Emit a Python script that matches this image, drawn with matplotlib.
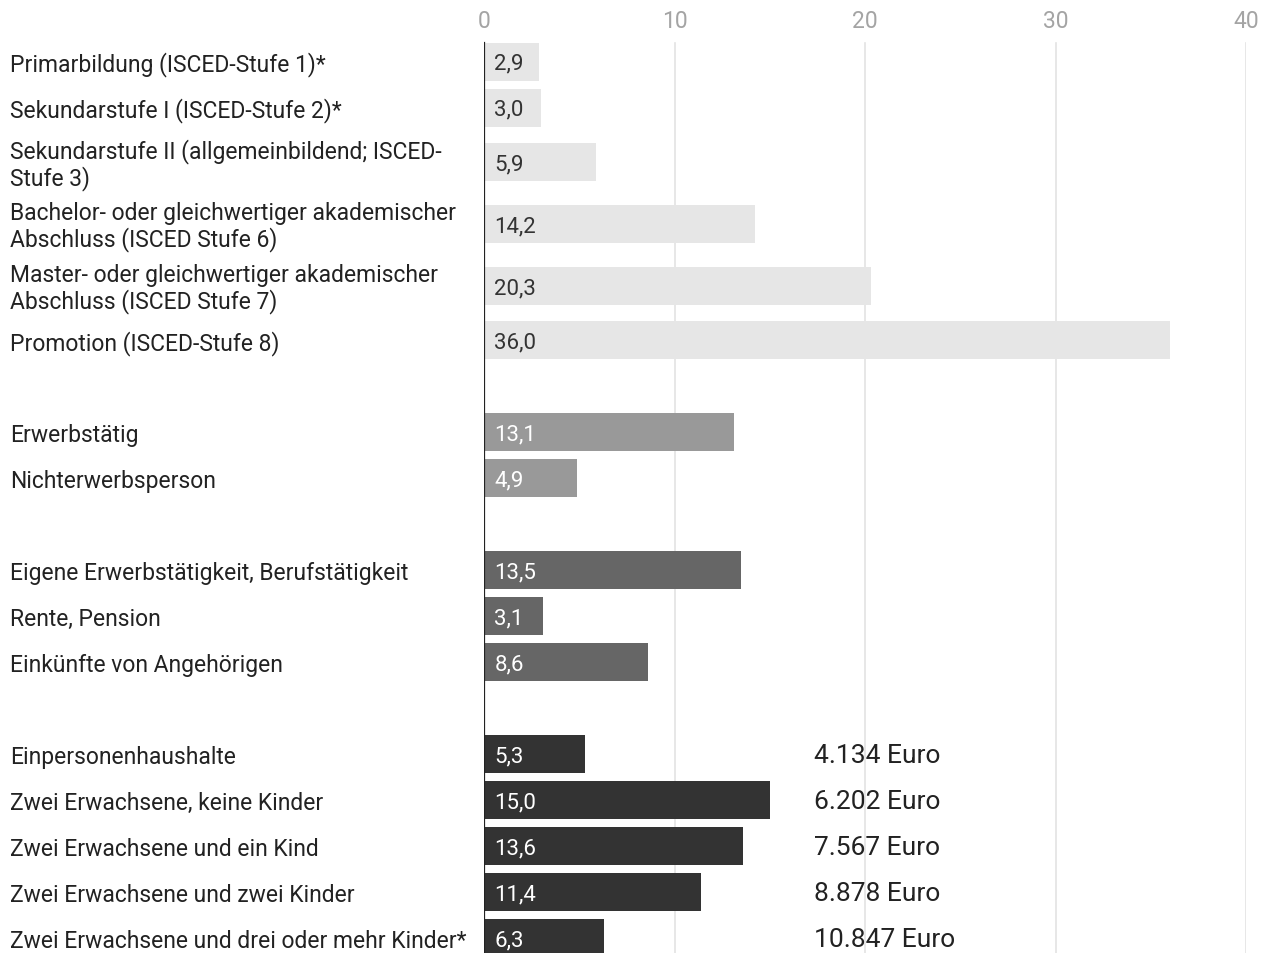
import numpy as np
import matplotlib
matplotlib.use("Agg")
import matplotlib.pyplot as plt
from matplotlib.transforms import blended_transform_factory

plt.rcParams["font.family"] = ["Roboto", "DejaVu Sans"]

# data
labels = [
    "Primarbildung (ISCED-Stufe 1)*",
    "Sekundarstufe I (ISCED-Stufe 2)*",
    "Sekundarstufe II (allgemeinbildend; ISCED-\nStufe 3)",
    "Bachelor- oder gleichwertiger akademischer\nAbschluss (ISCED Stufe 6)",
    "Master- oder gleichwertiger akademischer\nAbschluss (ISCED Stufe 7)",
    "Promotion (ISCED-Stufe 8)",
    None,
    "Erwerbstätig",
    "Nichterwerbsperson",
    None,
    "Eigene Erwerbstätigkeit, Berufstätigkeit",
    "Rente, Pension",
    "Einkünfte von Angehörigen",
    None,
    "Einpersonenhaushalte",
    "Zwei Erwachsene, keine Kinder",
    "Zwei Erwachsene und ein Kind",
    "Zwei Erwachsene und zwei Kinder",
    "Zwei Erwachsene und drei oder mehr Kinder*",
]
values = [2.9, 3.0, 5.9, 14.2, 20.3, 36.0, None,
          13.1, 4.9, None,
          13.5, 3.1, 8.6, None,
          5.3, 15.0, 13.6, 11.4, 6.3]
groups = [0, 0, 0, 0, 0, 0, None, 1, 1, None, 2, 2, 2, None, 3, 3, 3, 3, 3]
euro = ["4.134 Euro", "6.202 Euro", "7.567 Euro", "8.878 Euro", "10.847 Euro"]
xticks = [0, 10, 20, 30, 40]

BAR_COLORS = ["#e6e6e6", "#999999", "#666666", "#333333"]
TXT_COLORS = ["#333333", "#ffffff", "#ffffff", "#ffffff"]

# row layout: two-line labels get taller rows, empty rows separate groups
row_h = [1.35 if (lab and "\n" in lab) else 1.0 for lab in labels]
edges = np.concatenate([[0], np.cumsum(row_h)])
centers = (edges[:-1] + edges[1:]) / 2
total = edges[-1]

W, H = 1262, 954
fig = plt.figure(figsize=(W / 100, H / 100), dpi=100)
top_px, bot_px = 40, 40 + total * 46
ax = fig.add_axes([484 / W, 1 - bot_px / H, (1246 - 484) / W, (bot_px - top_px) / H])
ax.set_xlim(0, 40)
ax.set_ylim(total, 0)
for s in ax.spines.values():
    s.set_visible(False)
ax.set_yticks([])
ax.xaxis.tick_top()
ax.set_xticks(xticks, [str(t) for t in xticks])
ax.tick_params(axis="x", length=0, pad=5, labelsize=16.5, labelcolor="#a4a4a4")
for t in xticks[1:]:
    ax.axvline(t, ymin=0, ymax=1 - 4 / (bot_px - top_px), color="#e3e3e3",
               lw=1.2, zorder=0)

bar_h = 38 / 46
lab_tr = blended_transform_factory(fig.transFigure, ax.transData)
ei = 0
for lab, v, g, y in zip(labels, values, groups, centers):
    if lab is None:
        continue
    ax.barh(y, v, height=bar_h, color=BAR_COLORS[g], zorder=2)
    ax.annotate(f"{v:.1f}".replace(".", ","), xy=(0, y), xytext=(7.5, -1),
                textcoords="offset points", va="center", ha="left",
                fontsize=16, color=TXT_COLORS[g], zorder=3)
    ax.text(10 / W, y + 0.04, lab, transform=lab_tr, ha="left", va="center",
            fontsize=16.5, color="#222222", linespacing=1.13)
    if g == 3:
        ax.text(17.3, y + 0.02, euro[ei], ha="left", va="center", fontsize=19,
                color="#222222")
        ei += 1

ax.axvline(0, ymax=1 - 4 / (bot_px - top_px), color="#222222", lw=1.6, zorder=4)

fig.savefig("out.png", dpi=100)
